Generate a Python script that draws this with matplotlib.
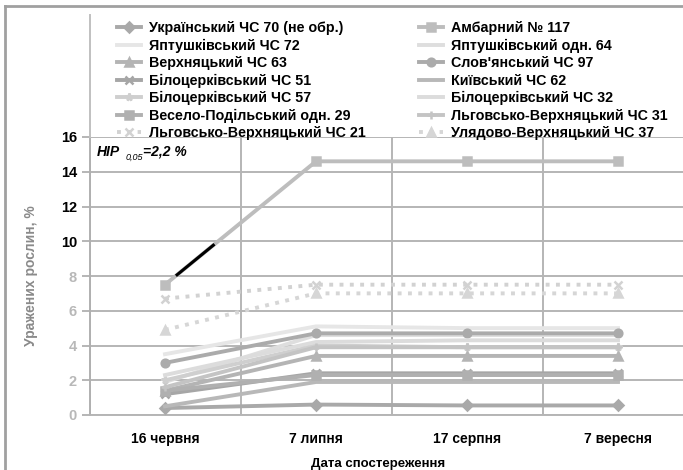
import numpy as np
import matplotlib
matplotlib.use('Agg')
import matplotlib.pyplot as plt
from matplotlib.lines import Line2D

plt.rcParams['font.family'] = ['Liberation Sans', 'DejaVu Sans']

dates = ['16 червня', '7 липня', '17 серпня', '7 вересня']

# ураженість, % (по датах спостереження)
ukr_70 = [0.4, 0.6, 0.55, 0.55]
ambar_117 = [7.5, 14.6, 14.6, 14.6]
yapt_72 = [3.5, 5.1, 5.0, 5.0]
yapt_64 = [1.9, 4.6, 4.6, 4.6]
verkh_63 = [1.4, 3.4, 3.4, 3.4]
slov_97 = [3.0, 4.7, 4.7, 4.7]
bilots_51 = [1.2, 2.4, 2.4, 2.4]
kyiv_62 = [0.5, 1.9, 1.9, 1.9]
bilots_57 = [2.0, 4.0, 3.9, 3.9]
bilots_32 = [2.3, 4.2, 4.3, 4.3]
veselo_29 = [1.4, 2.3, 2.3, 2.3]
lgov_31 = [1.6, 3.9, 3.9, 3.9]
lgov_21 = [6.7, 7.5, 7.5, 7.5]
ulyad_37 = [4.9, 7.0, 7.0, 7.0]

names = ['Український ЧС 70 (не обр.)', 'Амбарний № 117',
         'Яптушківський ЧС 72', 'Яптушківський одн. 64',
         'Верхняцький ЧС 63', "Слов'янський ЧС 97",
         'Білоцерківський ЧС 51', 'Київський ЧС 62',
         'Білоцерківський ЧС 57', 'Білоцерківський ЧС 32',
         'Весело-Подільський одн. 29', 'Льговсько-Верхняцький ЧС 31',
         'Льговсько-Верхняцький ЧС 21', 'Улядово-Верхняцький ЧС 37']
series = [ukr_70, ambar_117, yapt_72, yapt_64, verkh_63, slov_97, bilots_51,
          kyiv_62, bilots_57, bilots_32, veselo_29, lgov_31, lgov_21, ulyad_37]

# стиль ліній: (колір, маркер, тип лінії)
styles = [('#a9a9a9', 'D', '-'), ('#bdbdbd', 's', '-'),
          ('#e6e6e6', '', '-'), ('#dedede', '', '-'),
          ('#b4b4b4', '^', '-'), ('#ababab', 'o', '-'),
          ('#a6a6a6', 'x', '-'), ('#b8b8b8', '', '-'),
          ('#cfcfcf', '*', '-'), ('#dcdcdc', '', '-'),
          ('#b0b0b0', 's', '-'), ('#c4c4c4', '+', '-'),
          ('#d2d2d2', 'x', ':'), ('#d6d6d6', '^', ':')]

fig = plt.figure(figsize=(6.83, 4.70), dpi=100)
ax = fig.add_axes([89.5 / 683, 55 / 470, 604 / 683, 278 / 470])
x = np.arange(len(dates))

handles = []
for vals, name, (col, mk, ls) in zip(series, names, styles):
    h, = ax.plot(x, vals, color=col, lw=2.8, ls=ls, marker=mk if mk else None,
                 ms=5.5, mew=1.8, label=name, zorder=3)
    handles.append(h)

# чорний штрих на лінії Амбарного
t = np.array([0.08, 0.32])
ax.plot(x[0] + t * (x[1] - x[0]),
        ambar_117[0] + t * (ambar_117[1] - ambar_117[0]),
        color='black', lw=2.2, zorder=4)

ax.set_xlim(-0.5, 3.5)
ax.set_ylim(0, 16)
ax.set_yticks(np.arange(0, 17, 2))
ax.set_xticks(x)
ax.set_xticklabels(dates, fontweight='bold', fontsize=10)
ax.set_xticks(np.arange(-0.5, 4, 1), minor=True)
ax.tick_params(axis='x', which='major', length=0, pad=12)
ax.tick_params(axis='x', which='minor', length=0)
ax.tick_params(axis='y', length=6, width=1.4, color='#b5b5b5', pad=3,
               labelsize=10.5)
for lbl, v in zip(ax.get_yticklabels(), np.arange(0, 17, 2)):
    lbl.set_fontweight('bold')
    lbl.set_color('black' if v >= 10 else '#b8b8b8')

ax.grid(axis='y', which='major', color='#b5b5b5', lw=1.4)
ax.grid(axis='x', which='minor', color='#b5b5b5', lw=1.4)
for s in ['top', 'right']:
    ax.spines[s].set_visible(False)
ax.spines['left'].set_color('#b0b0b0')
ax.spines['left'].set_linewidth(1.4)
ax.spines['bottom'].set_color('#b5b5b5')
ax.spines['bottom'].set_linewidth(1.4)

ax.set_xlabel('Дата спостереження', fontsize=9.5, fontweight='bold')
ax.xaxis.set_label_coords(0.478, -0.155)
ax.set_ylabel('Уражених рослин, %', fontsize=10, color='#8a8a8a',
              fontweight='bold')
ax.yaxis.set_label_coords(-0.085, 0.5)

# НІР
fig.text(97 / 683, 1 - 152 / 470, 'HIP', fontsize=10, fontweight='bold',
         style='italic', va='center')
fig.text(126 / 683, 1 - 157 / 470, '0,05', fontsize=6.5, style='italic',
         va='center')
fig.text(143 / 683, 1 - 152 / 470, '=2,2 %', fontsize=10, fontweight='bold',
         style='italic', va='center')

# легенда у два стовпці
order = list(range(0, 14, 2)) + list(range(1, 14, 2))
leg = fig.legend([handles[i] for i in order], [names[i] for i in order],
                 ncol=2, loc='upper left', bbox_to_anchor=(110 / 683, 1 - 14 / 470),
                 frameon=False, handlelength=1.7, handletextpad=0.55,
                 columnspacing=3.7, labelspacing=0.24, borderpad=0,
                 prop={'weight': 'bold', 'size': 10.3})

# рамка діаграми
fig.add_artist(Line2D([5 / 683, 5 / 683], [0, 1 - 6 / 470], color='#a0a0a0', lw=2))
fig.add_artist(Line2D([5 / 683, 1], [1 - 6 / 470, 1 - 6 / 470], color='#a0a0a0', lw=2))
fig.add_artist(Line2D([89.5 / 683, 89.5 / 683], [1 - 15 / 470, 1 - 137 / 470],
                      color='#c0c0c0', lw=1.4))

fig.savefig('out.png', dpi=100)
